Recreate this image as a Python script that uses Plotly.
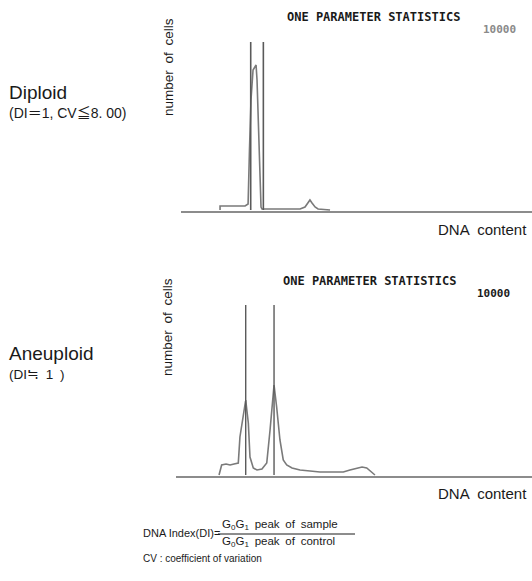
import plotly.graph_objects as go

W, H = 532, 581

# ---------------- data (channel units, counts) ----------------
# Diploid histogram
dip_channel = [29.1, 29.1, 47.3, 49.5, 50.5, 51.6, 53.1, 54.5, 55.3, 56.0, 56.7, 57.5, 58.2, 58.9, 59.6,
               87.3, 90.9, 93.1, 94.5, 96.0, 98.2, 100.4, 109.1]
dip_count = [0, 4, 4, 6, 60, 110, 140, 143, 145, 130, 100, 60, 20, 3, 1,
             1, 3, 7, 10, 7, 3, 1, 0]
dip_markers = [51.4, 60.6]
dip_marker_height = 168

# Aneuploid histogram
aneu_channel = [31.3, 33.2, 36.4, 39.3, 42.2, 45.3, 46.5, 48.9, 50.7, 52.6, 53.8, 56.2, 58.9, 62.5,
                66.0, 68.4, 70.0, 71.3, 73.2, 75.6, 78.0, 80.5, 84.4, 90.2, 97.5, 104.7, 112.0,
                121.7, 126.5, 131.4, 135.3, 138.7, 142.3, 144.7]
aneu_count = [0, 10, 11, 10, 11, 12, 38, 62, 75, 52, 18, 7, 5, 6,
              12, 45, 75, 90, 68, 35, 15, 10, 7, 5, 4, 3, 3,
              3, 5, 7, 8, 7, 3, 0]
aneu_markers = [50.7, 71.3]
aneu_marker_height = 170

panel_title = "ONE PARAMETER STATISTICS"
event_count = "10000"
x_label = "DNA\u2002content"
y_label = "number\u2002of\u2002cells"

# ---------------- helpers ----------------
def px(x):
    return x / W

def py(y):
    return 1 - y / H

HIST = "#7a7a7a"
MARK = "#5a5a5a"
AXIS = "#8c8c8c"
TXT = "#1a1a1a"

fig = go.Figure()

# diploid panel
fig.add_trace(go.Scatter(x=dip_channel, y=dip_count, mode="lines",
                         line=dict(color=HIST, width=1.6), xaxis="x", yaxis="y",
                         hoverinfo="skip", showlegend=False))
for m in dip_markers:
    fig.add_trace(go.Scatter(x=[m, m], y=[0, dip_marker_height], mode="lines",
                             line=dict(color=MARK, width=1.6), xaxis="x", yaxis="y",
                             hoverinfo="skip", showlegend=False))

# aneuploid panel
fig.add_trace(go.Scatter(x=aneu_channel, y=aneu_count, mode="lines",
                         line=dict(color=HIST, width=1.6), xaxis="x2", yaxis="y2",
                         hoverinfo="skip", showlegend=False))
for m in aneu_markers:
    fig.add_trace(go.Scatter(x=[m, m], y=[0, aneu_marker_height], mode="lines",
                             line=dict(color=MARK, width=1.4), xaxis="x2", yaxis="y2",
                             hoverinfo="skip", showlegend=False))

common_x = dict(showgrid=False, zeroline=False, showticklabels=False, ticks="",
                showline=True, linecolor=AXIS, linewidth=1.5, fixedrange=True)
common_y = dict(showgrid=False, zeroline=False, showticklabels=False, ticks="",
                showline=False, fixedrange=True)

fig.update_layout(
    width=W, height=H,
    margin=dict(l=0, r=0, t=0, b=0),
    paper_bgcolor="white", plot_bgcolor="white",
    xaxis=dict(domain=[px(181), px(532)], range=[0.7, 256], anchor="y", **common_x),
    yaxis=dict(domain=[py(211), py(30)], range=[-1, 180], anchor="x", **common_y),
    xaxis2=dict(domain=[px(176), px(532)], range=[0, 258.9], anchor="y2", **common_x),
    yaxis2=dict(domain=[py(476), py(290)], range=[-1, 185], anchor="x2", **common_y),
)

mono = "DejaVu Sans Mono"
sans = "Liberation Sans, Noto Sans CJK JP, sans-serif"

ann = []
def text(s, x, y, size, xanchor="left", color=TXT, family=sans, angle=0, bold=False):
    if bold:
        s = "<b>" + s + "</b>"
    ann.append(dict(text=s, x=px(x), y=py(y), xref="paper", yref="paper",
                    xanchor=xanchor, yanchor="middle", showarrow=False,
                    textangle=angle, font=dict(size=size, color=color, family=family)))

# top panel texts
text(panel_title, 373, 17, 12, "center", family=mono, bold=True)
text(event_count, 499, 30, 11, "center", color="#8a8a8a", family=mono, bold=True)
text(y_label, 168, 67, 13.5, "center", angle=-90)
text(x_label, 529, 230, 15, "right")
text("Diploid", 7, 92, 19)
text("(DI＝1, CV≦8. 00)", 7, 113, 14)

# bottom panel texts
text(panel_title, 369, 281, 12, "center", family=mono, bold=True)
text(event_count, 493, 293, 11, "center", family=mono, bold=True)
text(y_label, 167, 327, 13.5, "center", angle=-90)
text(x_label, 529, 493, 15, "right")
text("Aneuploid", 7, 353, 19)
text("(DI≒\u20021\u2002)", 7, 374, 13.5)

# formula
text("DNA Index(DI)=", 141, 533, 11)
text("G<sub>0</sub>G<sub>1</sub>\u2002peak\u2002of\u2002sample", 220, 525, 11.5)
text("G<sub>0</sub>G<sub>1</sub>\u2002peak\u2002of\u2002control", 220, 542, 11.5)
text("CV : coefficient of variation", 141, 558, 10)

fig.update_layout(annotations=ann)
fig.add_shape(type="line", xref="paper", yref="paper",
              x0=px(218), x1=px(355), y0=py(534), y1=py(534),
              line=dict(color=TXT, width=1))

fig.write_html("out.html", config={"displayModeBar": False},
               post_script="document.body.style.margin='0px';")
